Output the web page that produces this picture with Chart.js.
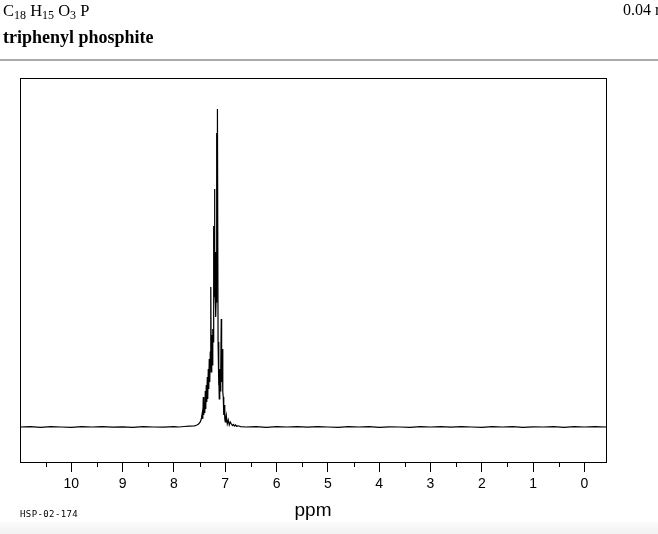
<!DOCTYPE html>
<html lang="en">
<head>
    <meta charset="UTF-8" />
    <title>triphenyl phosphite 1H NMR</title>
    <script src="https://cdn.jsdelivr.net/npm/chart.js"></script>
    <style>
        body { margin: 0; background: #fff; }
        #page { position: relative; width: 658px; height: 534px; overflow: hidden; }
        #spectrum { position: absolute; left: 0; top: 0; }
        .serif { position: absolute; font-family: "Liberation Serif", "Times New Roman", serif; color: #000; white-space: nowrap; }
        #formula { left: 3px; top: 1px; font-size: 16.5px; }
        #formula sub { font-size: 12px; vertical-align: -3px; }
        #name { left: 3px; top: 27px; font-size: 18px; font-weight: bold; }
        #scale { left: 623px; top: 1px; font-size: 16px; }
        #rule { position: absolute; left: 0; top: 59px; width: 658px; height: 2px; background: #aaa; }
        #code { position: absolute; left: 20px; top: 509px; font-family: "DejaVu Sans Mono", monospace; font-size: 9px; letter-spacing: 0.4px; }
        #foot { position: absolute; left: 0; top: 522px; width: 658px; height: 12px; background: linear-gradient(#fbfbfb, #f2f2f2); }
    </style>
</head>
<body>
<div id="page">
    <div id="foot"></div>
    <canvas id="spectrum" width="658" height="534"></canvas>
    <div class="serif" id="formula">C<sub>18</sub> H<sub>15</sub> O<sub>3</sub> P</div>
    <div class="serif" id="name">triphenyl phosphite</div>
    <div class="serif" id="scale">0.04 r</div>
    <div id="rule"></div>
    <div id="code">HSP-02-174</div>
</div>

<script>
    // chemical shift (ppm) and intensity
    const shift = [
        11.0, 10.8, 10.6, 10.4, 10.2, 10.0, 9.8, 9.6, 9.4, 9.2, 9.0, 8.8, 8.6, 8.4, 8.2, 8.0,
        7.9, 7.8, 7.7, 7.6, 7.55, 7.52,
        7.487, 7.467, 7.448, 7.438, 7.428, 7.419, 7.409, 7.399, 7.389, 7.380, 7.370, 7.360,
        7.350, 7.341, 7.331, 7.321, 7.312, 7.302, 7.292, 7.282, 7.273, 7.263, 7.253, 7.243,
        7.233, 7.228, 7.223, 7.218, 7.208, 7.204, 7.199, 7.189, 7.184, 7.179, 7.169, 7.165,
        7.160, 7.155, 7.150, 7.140, 7.130, 7.123, 7.117, 7.107, 7.097, 7.087, 7.078, 7.073,
        7.068, 7.058, 7.048, 7.039, 7.029, 7.019, 7.009, 7.000, 6.990, 6.980, 6.961, 6.941,
        6.922, 6.902,
        6.88, 6.86, 6.84, 6.82, 6.80, 6.78, 6.75, 6.7, 6.6, 6.4, 6.2, 6.0, 5.8, 5.6, 5.4, 5.2,
        5.0, 4.8, 4.6, 4.4, 4.2, 4.0, 3.8, 3.6, 3.4, 3.2, 3.0, 2.8, 2.6, 2.4, 2.2, 2.0, 1.8,
        1.6, 1.4, 1.2, 1.0, 0.8, 0.6, 0.4, 0.2, 0.0, -0.2, -0.42
    ];
    const intensity = [
        0, 0.3, -0.3, 0.4, 0, -0.3, 0.3, 0, 0.4, -0.2, 0.2, -0.3, 0.3, 0, -0.2, 0.3,
        0, 0.5, 0.8, 1.2, 2, 3,
        5, 8, 14, 8, 30, 12, 24, 14, 36, 18, 42, 25,
        50, 28, 58, 38, 68, 45, 75, 140, 55, 92, 62, 98,
        85, 201, 120, 140, 238, 130, 150, 175, 110, 125, 294, 200,
        230, 190, 318, 85, 42, 55, 28, 58, 36, 62, 108, 70,
        45, 78, 35, 30, 12, 22, 8, 5, 9, 12, 3, 7,
        2, 5,
        3, 1.5, 2.5, 1, 2, 0.8, 1.2, 0.4, 0, 0.4, -0.3, 0.3, 0, 0.4, -0.2, 0.3,
        0, -0.3, 0.3, 0, 0.4, -0.3, 0.2, 0, -0.3, 0.4, 0, 0.3, -0.2, 0.3, 0, -0.4, 0.3,
        0, 0.4, -0.3, 0.2, 0, 0.3, -0.3, 0.3, 0, 0.4, 0
    ];
    const majorTicks = [10, 9, 8, 7, 6, 5, 4, 3, 2, 1, 0];
    const minorTicks = [10.5, 9.5, 8.5, 7.5, 6.5, 5.5, 4.5, 3.5, 2.5, 1.5, 0.5];

    const frameAndMinor = {
        id: 'frameAndMinor',
        afterDraw(chart) {
            const { ctx, chartArea: a, scales: { x } } = chart;
            ctx.save();
            ctx.strokeStyle = '#000';
            ctx.lineWidth = 1;
            ctx.strokeRect(Math.round(a.left) + 0.5, Math.round(a.top) + 0.5,
                Math.round(a.right - a.left), Math.round(a.bottom - a.top));
            ctx.beginPath();
            minorTicks.forEach(v => {
                const px = Math.round(x.getPixelForValue(v)) + 0.5;
                ctx.moveTo(px, Math.round(a.bottom));
                ctx.lineTo(px, Math.round(a.bottom) + 5);
            });
            ctx.stroke();
            ctx.restore();
        }
    };

    new Chart(document.getElementById('spectrum'), {
        type: 'line',
        data: {
            datasets: [{
                data: shift.map((s, i) => ({ x: s, y: intensity[i] })),
                borderColor: '#000',
                borderWidth: 1.2,
                pointRadius: 0,
                tension: 0,
                fill: false
            }]
        },
        options: {
            responsive: false,
            animation: false,
            layout: { padding: { left: 20, right: 52, top: 78, bottom: 0 } },
            plugins: { legend: { display: false }, tooltip: { enabled: false } },
            scales: {
                x: {
                    type: 'linear',
                    reverse: true,
                    min: -0.42,
                    max: 11,
                    afterBuildTicks: axis => { axis.ticks = majorTicks.map(v => ({ value: v })); },
                    afterFit: axis => { axis.height = 72; },
                    border: { display: false },
                    grid: { drawOnChartArea: false, drawTicks: true, tickLength: 10, tickColor: '#000', tickWidth: 1 },
                    ticks: {
                        color: '#000',
                        padding: 4,
                        maxRotation: 0,
                        font: { family: 'Liberation Sans', size: 14 }
                    },
                    title: {
                        display: true,
                        text: 'ppm',
                        color: '#000',
                        padding: { top: 0, bottom: 12 },
                        font: { family: 'Liberation Sans', size: 19 }
                    }
                },
                y: { display: false, min: -35, max: 349 }
            }
        },
        plugins: [frameAndMinor]
    });
</script>
</body>
</html>
